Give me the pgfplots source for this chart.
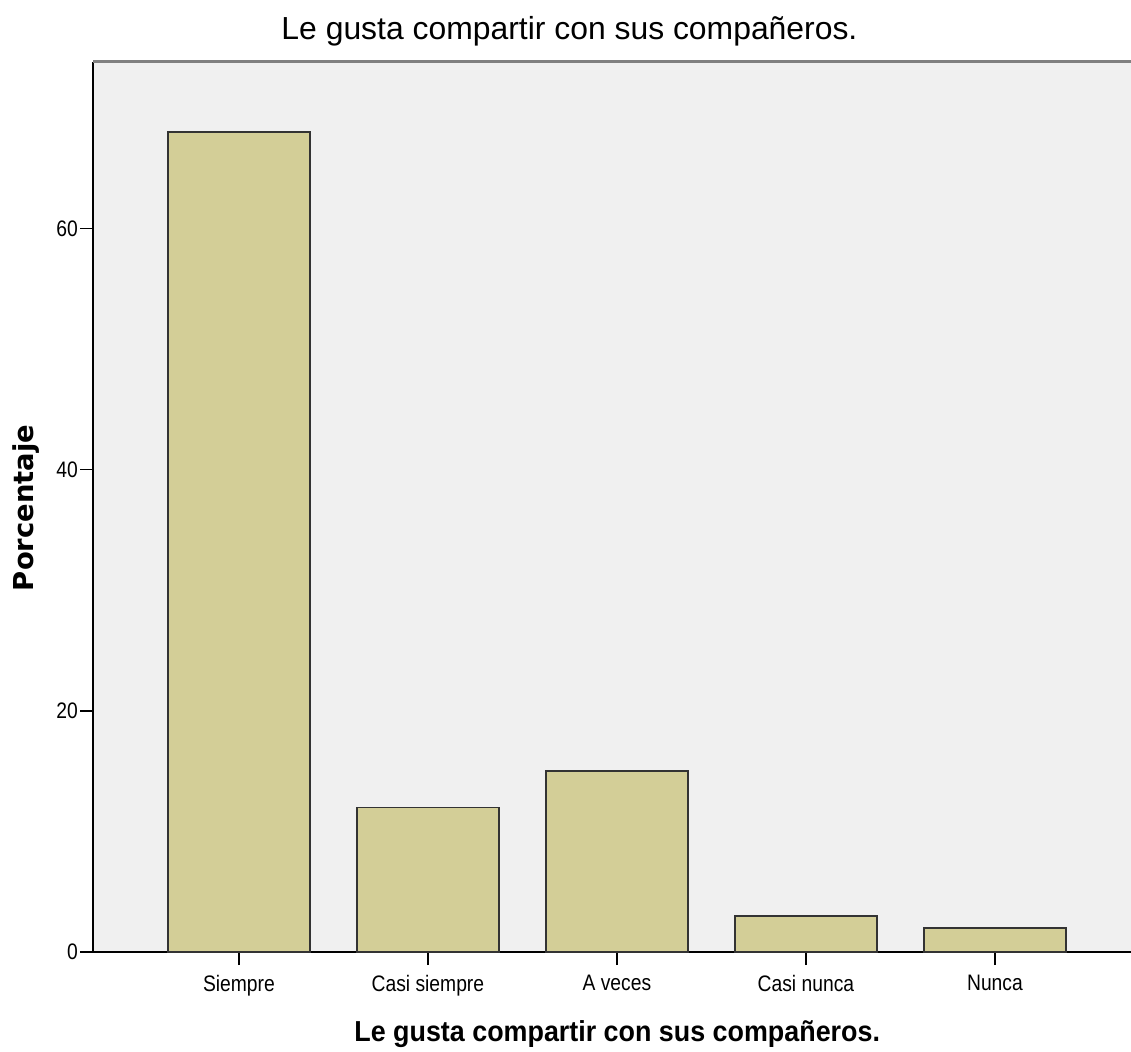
\documentclass[border=0pt]{standalone}
\usepackage{pgfplots}
\pgfplotsset{compat=1.18}
\usepackage{fontspec}
\setmainfont{Liberation Sans}
\newfontfamily\tickfont{Liberation Sans}[FakeStretch=0.86]
\newfontfamily\xlabfont{Liberation Sans}[FakeStretch=0.93]
\newfontfamily\ylabfont{DejaVu Sans}
\definecolor{barfill}{RGB}{211,206,151}
\definecolor{bgc}{RGB}{240,240,240}
\begin{document}
\begin{tikzpicture}[x=1bp,y=1bp]
\path[use as bounding box] (0,0) rectangle (1131,1052);
\begin{axis}[
  at={(93bp,100bp)}, anchor=south west,
  scale only axis, width=1038bp, height=890bp,
  xmin=-0.772, xmax=4.72, ymin=0, ymax=73.8,
  axis lines=left, axis line style={-, black, line width=1.6bp},
  axis background/.style={fill=bgc},
  tick align=outside, major tick length=13bp,
  tick style={black, line width=1.5bp},
  xtick={0,1,2,3,4},
  xticklabels={Siempre,Casi siempre,A veces,Casi nunca,Nunca},
  ytick={0,20,40,60},
  /pgf/number format/assume math mode=true,
  xticklabel style={font=\tickfont\fontsize{22.5}{24}\selectfont, inner sep=2bp, yshift=-8bp},
  yticklabel style={font=\tickfont\fontsize{22.5}{24}\selectfont, inner sep=2bp},
  title={Le gusta compartir con sus compañeros.},
  title style={font=\fontsize{32}{36}\selectfont, at={(axis description cs:0.459,1.019)}, anchor=base, inner sep=0pt},
  xlabel={Le gusta compartir con sus compañeros.},
  xlabel style={font=\xlabfont\bfseries\fontsize{29}{32}\selectfont, at={(axis description cs:0.505,-0.101)}, anchor=base, inner sep=0pt},
  ylabel={Porcentaje},
  ylabel style={font=\ylabfont\bfseries\fontsize{27.5}{30}\selectfont, at={(axis description cs:-0.0578,0.499)}, anchor=base, inner sep=0pt},
  clip=false,
]
\addplot[ybar, bar width=0.7513, fill=barfill, draw=black!80, line width=1.5bp]
  coordinates {(0,68) (1,12) (2,15) (3,3) (4,2)};
\draw[black!50, line width=3bp] (rel axis cs:0,1) -- (rel axis cs:1,1);
\end{axis}
\end{tikzpicture}
\end{document}
